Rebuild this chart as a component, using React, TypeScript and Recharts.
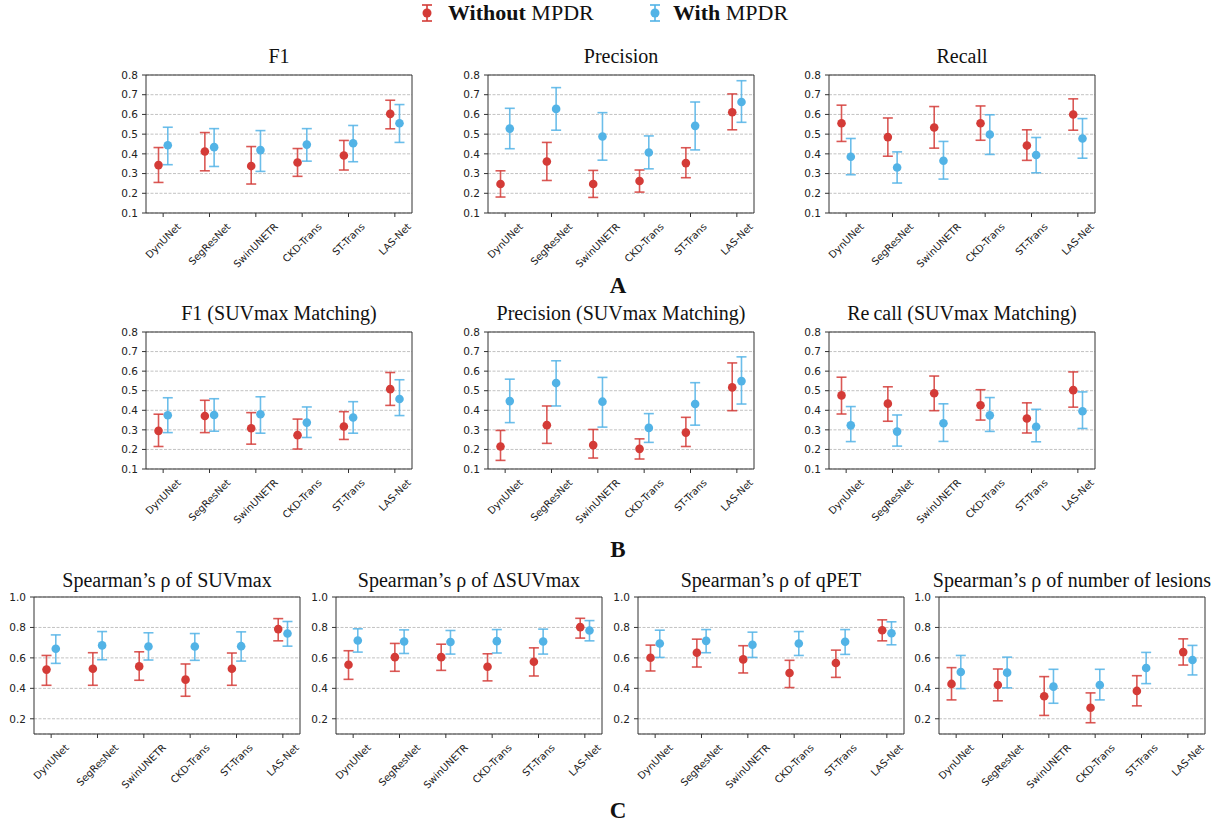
import React from "react";
import {
  ScatterChart,
  Scatter,
  XAxis,
  YAxis,
  CartesianGrid,
  ErrorBar,
  ReferenceArea,
} from "recharts";

const models = ["DynUNet", "SegResNet", "SwinUNETR", "CKD-Trans", "ST-Trans", "LAS-Net"];

// each entry: [mean, lower, upper]
const f1Without = [[0.343, 0.255, 0.432], [0.412, 0.314, 0.508], [0.338, 0.247, 0.437], [0.356, 0.286, 0.427], [0.392, 0.318, 0.468], [0.603, 0.527, 0.672]];
const f1With = [[0.444, 0.345, 0.535], [0.434, 0.336, 0.528], [0.419, 0.311, 0.518], [0.447, 0.363, 0.528], [0.454, 0.36, 0.544], [0.555, 0.458, 0.65]];

const precWithout = [[0.247, 0.181, 0.314], [0.361, 0.265, 0.458], [0.247, 0.179, 0.316], [0.262, 0.206, 0.318], [0.353, 0.279, 0.431], [0.611, 0.522, 0.704]];
const precWith = [[0.528, 0.426, 0.631], [0.628, 0.52, 0.736], [0.488, 0.368, 0.609], [0.407, 0.324, 0.491], [0.542, 0.42, 0.663], [0.663, 0.56, 0.771]];

const recWithout = [[0.555, 0.463, 0.647], [0.485, 0.388, 0.582], [0.534, 0.429, 0.64], [0.555, 0.469, 0.643], [0.442, 0.367, 0.522], [0.6, 0.52, 0.679]];
const recWith = [[0.385, 0.294, 0.478], [0.331, 0.252, 0.41], [0.365, 0.272, 0.463], [0.498, 0.397, 0.598], [0.394, 0.304, 0.483], [0.478, 0.378, 0.579]];

const f1SuvWithout = [[0.295, 0.215, 0.38], [0.371, 0.286, 0.451], [0.308, 0.227, 0.388], [0.273, 0.202, 0.355], [0.317, 0.251, 0.393], [0.508, 0.425, 0.593]];
const f1SuvWith = [[0.375, 0.286, 0.464], [0.376, 0.293, 0.459], [0.38, 0.283, 0.469], [0.337, 0.261, 0.417], [0.363, 0.283, 0.444], [0.458, 0.373, 0.556]];

const precSuvWithout = [[0.215, 0.144, 0.297], [0.324, 0.231, 0.422], [0.222, 0.156, 0.302], [0.203, 0.151, 0.254], [0.286, 0.215, 0.364], [0.517, 0.398, 0.642]];
const precSuvWith = [[0.447, 0.337, 0.559], [0.539, 0.422, 0.653], [0.444, 0.314, 0.568], [0.31, 0.236, 0.383], [0.432, 0.324, 0.541], [0.549, 0.432, 0.673]];

const recSuvWithout = [[0.476, 0.381, 0.569], [0.434, 0.344, 0.52], [0.487, 0.398, 0.575], [0.426, 0.35, 0.505], [0.358, 0.284, 0.438], [0.503, 0.416, 0.596]];
const recSuvWith = [[0.323, 0.24, 0.419], [0.291, 0.217, 0.376], [0.334, 0.241, 0.433], [0.374, 0.292, 0.465], [0.316, 0.239, 0.405], [0.395, 0.307, 0.494]];

const suvWithout = [[0.523, 0.42, 0.616], [0.529, 0.42, 0.634], [0.544, 0.453, 0.64], [0.457, 0.348, 0.56], [0.529, 0.42, 0.632], [0.789, 0.712, 0.858]];
const suvWith = [[0.66, 0.564, 0.751], [0.682, 0.588, 0.773], [0.675, 0.586, 0.765], [0.675, 0.584, 0.76], [0.677, 0.579, 0.771], [0.76, 0.677, 0.839]];

const dSuvWithout = [[0.555, 0.459, 0.647], [0.605, 0.512, 0.695], [0.605, 0.518, 0.69], [0.542, 0.449, 0.627], [0.575, 0.481, 0.666], [0.802, 0.73, 0.86]];
const dSuvWith = [[0.714, 0.638, 0.791], [0.708, 0.629, 0.784], [0.704, 0.625, 0.78], [0.71, 0.632, 0.786], [0.708, 0.625, 0.789], [0.78, 0.712, 0.845]];

const qpetWithout = [[0.601, 0.514, 0.684], [0.634, 0.54, 0.723], [0.59, 0.501, 0.68], [0.501, 0.405, 0.584], [0.566, 0.472, 0.651], [0.782, 0.712, 0.85]];
const qpetWith = [[0.695, 0.603, 0.782], [0.712, 0.634, 0.786], [0.686, 0.603, 0.769], [0.695, 0.616, 0.773], [0.706, 0.623, 0.786], [0.762, 0.686, 0.837]];

const lesionWithout = [[0.429, 0.324, 0.536], [0.422, 0.318, 0.527], [0.348, 0.222, 0.477], [0.272, 0.174, 0.37], [0.383, 0.285, 0.483], [0.638, 0.553, 0.725]];
const lesionWith = [[0.507, 0.398, 0.616], [0.503, 0.403, 0.605], [0.411, 0.302, 0.525], [0.422, 0.324, 0.525], [0.534, 0.431, 0.636], [0.586, 0.488, 0.682]];

const ticksAB = [0.1, 0.2, 0.3, 0.4, 0.5, 0.6, 0.7, 0.8];
const ticksC = [0.2, 0.4, 0.6, 0.8, 1.0];

const RED = "#d43b37";
const BLUE = "#52b3e6";
const RED_BAR = "rgba(212,59,55,0.85)";
const BLUE_BAR = "rgba(82,179,230,0.85)";
const X_DOMAIN: [number, number] = [-0.37, 5.37];
const BOX_W = 266;
const Y_W = 40;

let ctx: CanvasRenderingContext2D | null = null;
function textWidth(s: string) {
  if (!ctx) ctx = document.createElement("canvas").getContext("2d");
  if (!ctx) return s.length * 6.4;
  ctx.font = "10px 'DejaVu Sans'";
  return ctx.measureText(s).width;
}

function ModelTick(props: any) {
  const { x, y, payload } = props;
  const label = models[payload.value];
  const half = (textWidth(label) + 11) / (2 * Math.SQRT2);
  const cy = y + half;
  return (
    <text
      x={x}
      y={cy}
      transform={`rotate(-45, ${x}, ${cy})`}
      textAnchor="middle"
      dominantBaseline="central"
      fontSize={10}
      fontFamily="DejaVu Sans"
      fill="#222"
    >
      {label}
    </text>
  );
}

function toPoints(rows: number[][], shift: number) {
  return rows.map(([m, lo, hi], i) => ({ x: i + shift, y: m, err: [m - lo, hi - m] }));
}

function dot(color: string) {
  return (p: any) => <circle cx={p.cx} cy={p.cy} r={4.3} fill={color} />;
}

interface PanelProps {
  left: number;
  top: number;
  height: number;
  without: number[][];
  withM: number[][];
  domain: [number, number];
  ticks: number[];
}

function Panel({ left, top, height, without, withM, domain, ticks }: PanelProps) {
  return (
    <div style={{ position: "absolute", left: left - Y_W, top: top - 5 }}>
      <ScatterChart
        width={Y_W + BOX_W + 6}
        height={5 + height + 60}
        margin={{ top: 5, right: 6, bottom: 0, left: 0 }}
      >
        <CartesianGrid vertical={false} stroke="#c2c2c2" strokeDasharray="3 1.5" />
        <XAxis
          type="number"
          dataKey="x"
          domain={X_DOMAIN}
          ticks={[0, 1, 2, 3, 4, 5]}
          interval={0}
          height={60}
          axisLine={false}
          tickSize={4}
          tickMargin={4}
          tickLine={{ stroke: "#333" }}
          tick={(p: any) => <ModelTick {...p} />}
        />
        <YAxis
          type="number"
          dataKey="y"
          domain={domain}
          ticks={ticks}
          interval={0}
          width={Y_W}
          axisLine={false}
          tickSize={4}
          tickMargin={4}
          tickLine={{ stroke: "#333" }}
          tick={{ fontSize: 10.5, fontFamily: "DejaVu Sans", fill: "#222" }}
          tickFormatter={(v: number) => v.toFixed(1)}
        />
        <ReferenceArea
          x1={X_DOMAIN[0]}
          x2={X_DOMAIN[1]}
          y1={domain[0]}
          y2={domain[1]}
          fill="none"
          fillOpacity={0}
          stroke="#333"
          strokeWidth={1}
          ifOverflow="visible"
        />
        <Scatter data={toPoints(without, -0.1)} fill={RED} shape={dot(RED)} isAnimationActive={false}>
          <ErrorBar dataKey="err" direction="y" width={5} stroke={RED_BAR} strokeWidth={1.6} />
        </Scatter>
        <Scatter data={toPoints(withM, 0.1)} fill={BLUE} shape={dot(BLUE)} isAnimationActive={false}>
          <ErrorBar dataKey="err" direction="y" width={5} stroke={BLUE_BAR} strokeWidth={1.6} />
        </Scatter>
      </ScatterChart>
    </div>
  );
}

const SERIF = "'Liberation Serif', 'Times New Roman', serif";

function LegendMark({ x, color }: { x: number; color: string }) {
  return (
    <g>
      <line x1={x} x2={x} y1={5} y2={21} stroke={color} strokeWidth={1.6} />
      <line x1={x - 5} x2={x + 5} y1={5} y2={5} stroke={color} strokeWidth={1.6} />
      <line x1={x - 5} x2={x + 5} y1={21} y2={21} stroke={color} strokeWidth={1.6} />
      <circle cx={x} cy={13} r={4.5} fill={color} />
    </g>
  );
}

export default function App() {
  const colsAB = [146, 488, 829];
  const colsC = [34, 336, 638, 939];
  const cx = (l: number) => l + BOX_W / 2;
  const title = (x: number, y: number, t: React.ReactNode) => (
    <text x={x} y={y} textAnchor="middle" fontSize={20} fontFamily={SERIF} fill="#111">
      {t}
    </text>
  );
  return (
    <div style={{ position: "absolute", left: 0, top: 0, width: 1220, height: 824, background: "#fff" }}>
      <Panel left={colsAB[0]} top={75} height={138} without={f1Without} withM={f1With} domain={[0.1, 0.8]} ticks={ticksAB} />
      <Panel left={colsAB[1]} top={75} height={138} without={precWithout} withM={precWith} domain={[0.1, 0.8]} ticks={ticksAB} />
      <Panel left={colsAB[2]} top={75} height={138} without={recWithout} withM={recWith} domain={[0.1, 0.8]} ticks={ticksAB} />

      <Panel left={colsAB[0]} top={332} height={137} without={f1SuvWithout} withM={f1SuvWith} domain={[0.1, 0.8]} ticks={ticksAB} />
      <Panel left={colsAB[1]} top={332} height={137} without={precSuvWithout} withM={precSuvWith} domain={[0.1, 0.8]} ticks={ticksAB} />
      <Panel left={colsAB[2]} top={332} height={137} without={recSuvWithout} withM={recSuvWith} domain={[0.1, 0.8]} ticks={ticksAB} />

      <Panel left={colsC[0]} top={597} height={137} without={suvWithout} withM={suvWith} domain={[0.1, 1.0]} ticks={ticksC} />
      <Panel left={colsC[1]} top={597} height={137} without={dSuvWithout} withM={dSuvWith} domain={[0.1, 1.0]} ticks={ticksC} />
      <Panel left={colsC[2]} top={597} height={137} without={qpetWithout} withM={qpetWith} domain={[0.1, 1.0]} ticks={ticksC} />
      <Panel left={colsC[3]} top={597} height={137} without={lesionWithout} withM={lesionWith} domain={[0.1, 1.0]} ticks={ticksC} />

      <svg width={1220} height={824} style={{ position: "absolute", left: 0, top: 0, pointerEvents: "none" }}>
        <LegendMark x={427} color={RED} />
        <text x={448} y={20} fontSize={22} fontFamily={SERIF} fill="#111">
          <tspan fontWeight="bold">Without</tspan> MPDR
        </text>
        <LegendMark x={655} color={BLUE} />
        <text x={673} y={20} fontSize={22} fontFamily={SERIF} fill="#111">
          <tspan fontWeight="bold">With</tspan> MPDR
        </text>

        {title(cx(colsAB[0]), 63, "F1")}
        {title(cx(colsAB[1]), 63, "Precision")}
        {title(cx(colsAB[2]), 63, "Recall")}

        {title(cx(colsAB[0]), 320, "F1 (SUVmax Matching)")}
        {title(cx(colsAB[1]), 320, "Precision (SUVmax Matching)")}
        {title(
          cx(colsAB[2]),
          320,
          <>
            <tspan>Re</tspan>
            <tspan dx={4}>call (SUVmax Matching)</tspan>
          </>
        )}

        {title(cx(colsC[0]), 587, "Spearman’s ρ of SUVmax")}
        {title(cx(colsC[1]), 587, "Spearman’s ρ of ΔSUVmax")}
        {title(cx(colsC[2]), 587, "Spearman’s ρ of qPET")}
        {title(cx(colsC[3]), 587, "Spearman’s ρ of number of lesions")}

        <text x={618} y={293} textAnchor="middle" fontSize={23} fontWeight="bold" fontFamily={SERIF} fill="#111">A</text>
        <text x={618} y={557} textAnchor="middle" fontSize={23} fontWeight="bold" fontFamily={SERIF} fill="#111">B</text>
        <text x={618} y={818} textAnchor="middle" fontSize={23} fontWeight="bold" fontFamily={SERIF} fill="#111">C</text>
      </svg>
    </div>
  );
}
